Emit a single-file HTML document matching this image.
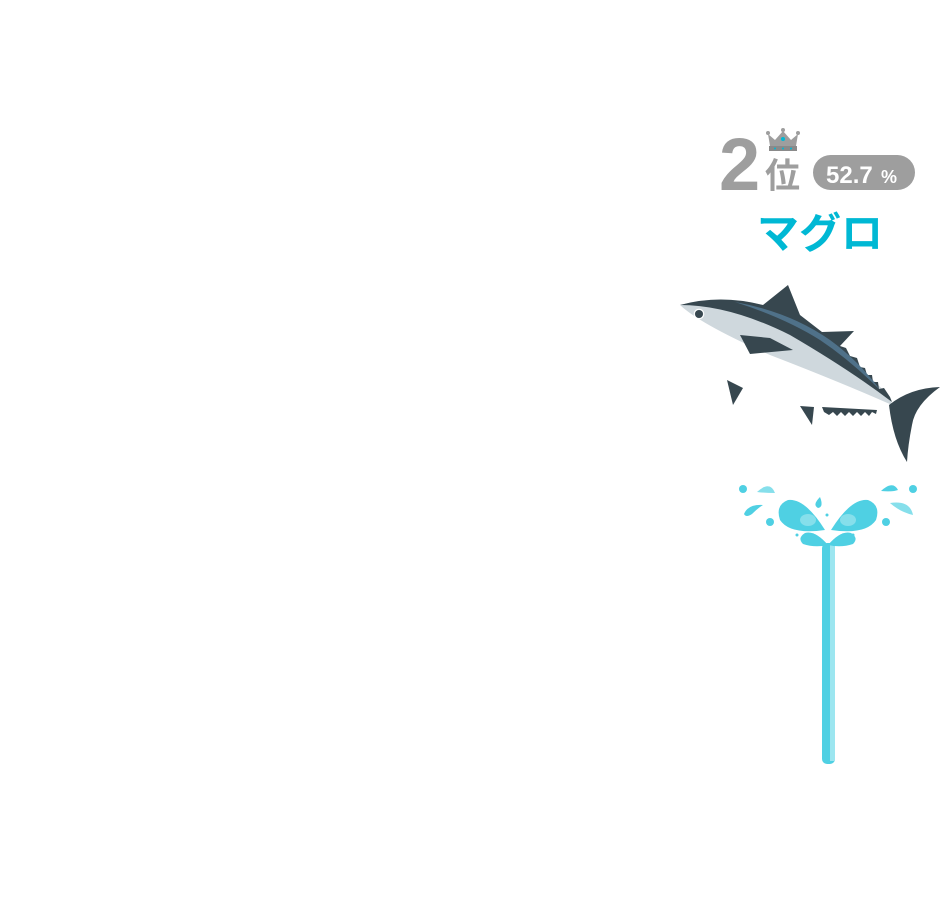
<!DOCTYPE html>
<html><head><meta charset="utf-8"><style>
html,body{margin:0;padding:0;background:#fff;}
svg{display:block}
</style></head><body>
<svg width="940" height="921" viewBox="0 0 940 921" xmlns="http://www.w3.org/2000/svg">
<text x="719" y="190" font-family="Liberation Sans, sans-serif" font-weight="bold" font-size="74" fill="#9e9e9e">2</text>
<g fill="#9e9e9e">
<path d="M768 134 L775 140 L783 131 L791 140 L798 134 L796 146 L770 146 Z"/>
<circle cx="768" cy="133" r="2"/><circle cx="798" cy="133" r="2"/><circle cx="783" cy="130" r="2"/>
<rect x="769" y="146" width="28" height="5" fill="#8a8a8a"/>
</g>
<circle cx="783" cy="139" r="2" fill="#00b8d4"/>
<circle cx="775" cy="148.5" r="1" fill="#00b8d4"/><circle cx="783" cy="148.5" r="1" fill="#00b8d4"/><circle cx="791" cy="148.5" r="1" fill="#00b8d4"/>
<text x="765" y="188" font-family="Liberation Sans, Noto Sans CJK JP, sans-serif" font-weight="bold" font-size="35" fill="#9e9e9e">位</text>
<rect x="813" y="155" width="102" height="35" rx="17.5" fill="#9e9e9e"/>
<text x="826" y="183" font-family="Liberation Sans, sans-serif" font-weight="bold" font-size="24" fill="#fff">52.7</text>
<text x="881" y="183" font-family="Liberation Sans, sans-serif" font-weight="bold" font-size="18" fill="#fff">%</text>
<text x="757" y="248" font-family="Liberation Sans, Noto Sans CJK JP, sans-serif" font-weight="bold" font-size="42" fill="#00b8d4">マグロ</text>
<g>
<path d="M727 380 L743 388 L733 405 Z" fill="#37474f"/>
<path d="M800 406 L814 407 L812 425 Z" fill="#37474f"/>
<path d="M822 407 L877 410 L876 414 L872 412 L869 416 L865 412 L861 416 L857 412 L853 416 L849 412 L845 416 L841 412 L837 416 L833 412 L829 415 L824 412 Z" fill="#37474f"/>
<path d="M680 305 Q700 324 770 355 Q840 382 892 405 L890 397 Q860 365 820 335 Q790 312 763 305 Q720 294 680 305 Z" fill="#cfd8dd"/>
<path d="M680 305 Q730 305 790 335 Q850 370 892 402 L890 397 L884 388 L879 389 L878 382 L873 382 L872 375 L867 375 L865 368 L860 367 L857 358 L850 356 L846 348 L840 346 L854 331 L822 332 L800 315 L788 285 L763 305 Q720 294 680 305 Z" fill="#37474f"/>
<path d="M735 302 Q790 312 830 340 Q860 362 880 390 Q850 360 820 340 Q785 318 735 302 Z" fill="#4f7189"/>
<path d="M740 335 L750 354 L793 350 L770 338 Z" fill="#37474f"/>
<circle cx="699" cy="314" r="4" fill="#37474f"/>
<circle cx="699" cy="314" r="4.8" fill="none" stroke="#fff" stroke-width="1"/>
<path d="M889 405 Q910 388 940 387 Q915 405 912 425 Q908 445 907 462 Q893 440 889 405 Z" fill="#37474f"/>
</g>
<g fill="#4fd0e3">
<rect x="822" y="543" width="13" height="221" rx="5"/>
<rect x="830" y="545" width="5" height="216" fill="#9ce6f0"/>
<path d="M828 545 Q815 530 805 533 Q797 538 803 544 Q815 548 828 545 Z"/>
<path d="M828 545 Q841 530 851 533 Q859 538 853 544 Q841 548 828 545 Z"/>
<path d="M825 530 Q805 498 788 500 Q775 505 780 520 Q790 535 825 530 Z"/>
<path d="M831 530 Q851 498 868 500 Q881 505 876 520 Q866 535 831 530 Z"/>
<path d="M820 497 Q812 505 818 508 Q824 507 820 497 Z"/>
<path d="M763 505 Q748 504 744 514 Q746 518 752 514 Q758 508 763 505 Z"/>
<circle cx="770" cy="522" r="4"/><circle cx="743" cy="489" r="4"/>
<circle cx="886" cy="522" r="4"/><circle cx="913" cy="489" r="4"/>
<path d="M881 491 Q893 480 898 490 Q893 492 881 491 Z"/>
<circle cx="797" cy="535" r="1.5"/><circle cx="853" cy="535" r="1.5"/><circle cx="827" cy="515" r="1.5"/>
</g>
<g fill="#86dfeb">
<path d="M757 492 Q770 480 775 493 Q765 493 757 492 Z"/>
<path d="M890 503 Q910 500 913 515 Q900 512 890 503 Z"/>
<ellipse cx="808" cy="520" rx="8" ry="6"/>
<ellipse cx="848" cy="520" rx="8" ry="6"/>
</g>
</svg>
</body></html>
